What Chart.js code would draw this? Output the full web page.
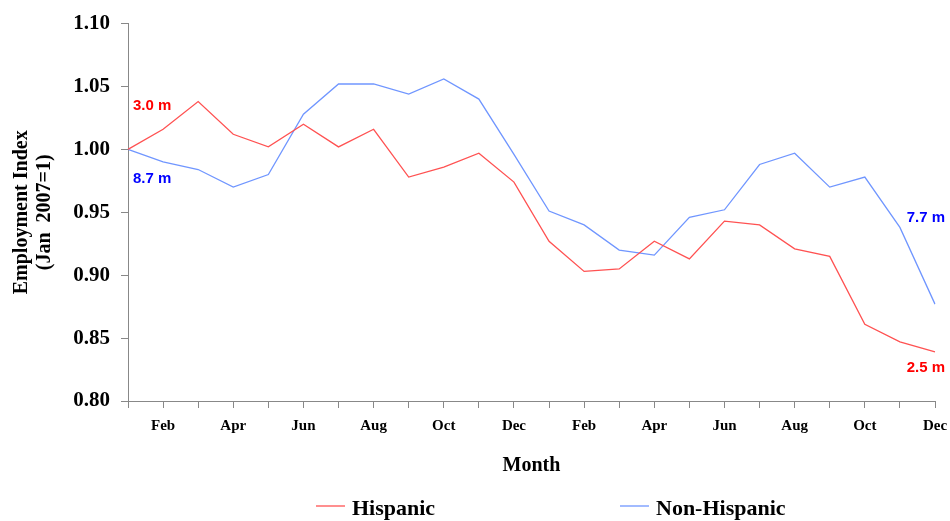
<!DOCTYPE html>
<html><head><meta charset="utf-8">
<script src="https://cdn.jsdelivr.net/npm/chart.js@4/dist/chart.umd.min.js"></script>
<style>html,body{margin:0;padding:0;background:#fff;}</style>
</head><body>
<canvas id="c" width="950" height="521"></canvas>
<script>
const months = ['Jan','Feb','Mar','Apr','May','Jun','Jul','Aug','Sep','Oct','Nov','Dec','Jan','Feb','Mar','Apr','May','Jun','Jul','Aug','Sep','Oct','Nov','Dec'];
const hispanic = [1.000,1.016,1.038,1.012,1.002,1.020,1.002,1.016,0.978,0.986,0.997,0.974,0.927,0.903,0.905,0.927,0.913,0.943,0.940,0.921,0.915,0.861,0.847,0.839];
const nonHispanic = [1.000,0.990,0.984,0.970,0.980,1.028,1.052,1.052,1.044,1.056,1.040,0.996,0.951,0.940,0.920,0.916,0.946,0.952,0.988,0.997,0.970,0.978,0.938,0.877];
const seriesNames = ['Hispanic','Non-Hispanic'];
const startLabels = ['3.0 m','8.7 m'];
const endLabels = ['2.5 m','7.7 m'];
const yTicks = [0.80,0.85,0.90,0.95,1.00,1.05,1.10];

const lineColors = ['#ff5252','#7096ff'];
const textColors = ['#ff0000','#0000ff'];
const serif = "'Liberation Serif','Times New Roman',serif";
const sans = "'Liberation Sans',Arial,sans-serif";

const annotPlugin = {
  id: 'annot',
  afterDatasetsDraw(chart) {
    const ctx = chart.ctx, xs = chart.scales.x, ys = chart.scales.y;
    ctx.save();
    ctx.font = 'bold 15px ' + sans;
    ctx.textBaseline = 'middle';
    const n = months.length - 1;
    ctx.textAlign = 'left';
    ctx.fillStyle = textColors[0];
    ctx.fillText(startLabels[0], xs.getPixelForValue(0) + 5, ys.getPixelForValue(hispanic[0]) - 44);
    ctx.fillStyle = textColors[1];
    ctx.fillText(startLabels[1], xs.getPixelForValue(0) + 5, ys.getPixelForValue(nonHispanic[0]) + 29);
    ctx.textAlign = 'right';
    ctx.fillStyle = textColors[0];
    ctx.fillText(endLabels[0], xs.getPixelForValue(n) + 10, ys.getPixelForValue(hispanic[n]) + 16);
    ctx.fillStyle = textColors[1];
    ctx.fillText(endLabels[1], xs.getPixelForValue(n) + 10, ys.getPixelForValue(nonHispanic[n]) - 86);
    ctx.restore();
  }
};

const legendPlugin = {
  id: 'customLegend',
  afterDraw(chart) {
    const ctx = chart.ctx;
    const starts = [316, 620];
    const y = 506;
    ctx.save();
    ctx.font = 'bold 22px ' + serif;
    ctx.textBaseline = 'middle';
    ctx.textAlign = 'left';
    chart.data.datasets.forEach((ds, i) => {
      ctx.strokeStyle = ds.borderColor;
      ctx.lineWidth = 1.3;
      ctx.beginPath();
      ctx.moveTo(starts[i], y);
      ctx.lineTo(starts[i] + 29, y);
      ctx.stroke();
      ctx.fillStyle = '#000';
      ctx.fillText(ds.label, starts[i] + 36, y + 3);
    });
    ctx.restore();
  }
};

new Chart(document.getElementById('c'), {
  type: 'line',
  data: {
    labels: months,
    datasets: [
      {label: seriesNames[0], data: hispanic, borderColor: lineColors[0], borderWidth: 1.3, pointRadius: 0, tension: 0, fill: false},
      {label: seriesNames[1], data: nonHispanic, borderColor: lineColors[1], borderWidth: 1.3, pointRadius: 0, tension: 0, fill: false}
    ]
  },
  options: {
    responsive: false,
    animation: false,
    layout: {padding: {left: 0, right: 15, top: 22, bottom: 43}},
    plugins: {legend: {display: false}, tooltip: {enabled: false}},
    scales: {
      x: {
        type: 'category',
        offset: false,
        grid: {drawOnChartArea: false, drawTicks: true, tickLength: 7, color: '#888', lineWidth: 1},
        border: {color: '#888', width: 1},
        ticks: {
          autoSkip: false, maxRotation: 0, minRotation: 0, padding: 9, color: '#000',
          font: {family: serif, size: 15, weight: 'bold'},
          callback: (v, i) => (i % 2 === 1 ? months[i] : '')
        },
        title: {display: true, text: 'Month', color: '#000', font: {family: serif, size: 20, weight: 'bold'}, padding: {top: 0, bottom: 0}},
        afterFit: (s) => { s.height = 77; s.paddingRight = 0; s.paddingLeft = 0; }
      },
      y: {
        min: 0.80, max: 1.10,
        afterBuildTicks: (s) => { s.ticks = yTicks.map(v => ({value: v})); },
        grid: {drawOnChartArea: false, drawTicks: true, tickLength: 7, color: '#888', lineWidth: 1},
        border: {color: '#888', width: 1},
        ticks: {padding: 11, color: '#000', font: {family: serif, size: 21, weight: 'bold'}, callback: (v) => Number(v).toFixed(2)},
        title: {display: true, text: ['Employment Index', '(Jan  2007=1)'], color: '#000', font: {family: serif, size: 20, weight: 'bold', lineHeight: 1.15}, padding: {top: 10, bottom: 0}},
        afterFit: (s) => { s.width = 128; }
      }
    }
  },
  plugins: [annotPlugin, legendPlugin]
});
</script>
</body></html>
